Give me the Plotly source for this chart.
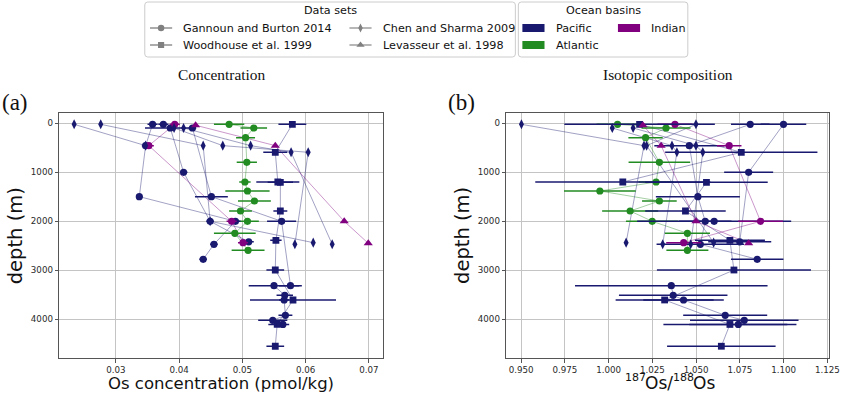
import plotly.graph_objects as go

W, H = 850, 393

# ---------------- data ----------------
basin_names = ["Pacific", "Atlantic", "Indian"]
basin_colors = ["#191970", "#228B22", "#800080"]
dataset_names = ["Gannoun and Burton 2014", "Woodhouse et al. 1999",
                 "Chen and Sharma 2009", "Levasseur et al. 1998"]
dataset_symbols = ["circle", "square", "diamond-tall", "triangle-up"]

# Gannoun and Burton 2014 - Pacific
gbp_station = ["P1"] * 6 + ["P2"] * 5 + ["P3"] * 4 + ["P4"] * 6
gbp_depth = [21, 456, 1497, 2000, 2470, 2776,
             21, 96, 1000, 2000, 2420,
             96, 1497, 2000, 3313,
             3313, 3510, 3606, 3919, 4021, 4105]
gbp_conc = [0.0358, 0.0347, 0.0337, 0.0489, 0.0455, 0.0438,
            0.0375, 0.0386, 0.0407, 0.0449, 0.0510,
            0.0421, 0.0451, 0.0562, 0.0576,
            0.0550, 0.0567, 0.0566, 0.0568, 0.0548, 0.0564]
gbp_conc_err = [0.0008, 0.0006, 0.0005, 0.0008, 0.0006, 0.0006,
                0.0008, 0.0040, 0.0006, 0.0006, 0.0008,
                0.0006, 0.0026, 0.0023, 0.0018,
                0.0040, 0.0013, 0.0008, 0.0011, 0.0023, 0.0010]
gbp_ratio = [1.0809, 1.0461, 1.0510, 1.0552, 1.0524, 1.0849,
             1.0999, None, 1.0800, None, 1.0749,
             None, None, 1.0603, None,
             1.0358, 1.0369, 1.0428, 1.0666, 1.0775, 1.0741]
gbp_ratio_err = [0.011, 0.020, 0.024, 0.015, 0.025, 0.015,
                 0.013, None, 0.014, None, 0.018,
                 None, None, 0.044, None,
                 0.055, 0.031, 0.023, 0.024, 0.031, 0.028]

# Gannoun and Burton 2014 - Atlantic
gba_station = ["A1"] * 11
gba_depth = [21, 96, 293, 796, 1198, 1382, 1586, 1790, 2000, 2245, 2592]
gba_conc = [0.0479, 0.0518, 0.0505, 0.0507, 0.0504, 0.0508, 0.0519, 0.0497, 0.0508, 0.0488, 0.0509]
gba_conc_err = [0.0024, 0.0021, 0.0015, 0.0016, 0.0009, 0.0035, 0.0026, 0.0018, 0.0018, 0.0033, 0.0026]
gba_ratio = [1.0051, 1.0328, 1.0211, 1.0290, 1.0271, 0.9950, 1.0290, 1.0123, 1.0249, 1.0450, 1.0450]
gba_ratio_err = [0.012, 0.014, 0.0098, 0.0176, 0.010, 0.0205, 0.0099, 0.016, 0.015, 0.0129, 0.012]

# Gannoun and Burton 2014 - Indian
gbi_station = ["I1"] * 4
gbi_depth = [21, 456, 2000, 2436]
gbi_conc = [0.0393, 0.0352, 0.0483, 0.0501]
gbi_conc_err = [0.0008, 0.0008, 0.0008, 0.0008]
gbi_ratio = [1.0379, 1.0689, 1.0868, 1.0429]
gbi_ratio_err = [0.010, 0.007, 0.0128, 0.010]

# Woodhouse et al. 1999 - Pacific
wh_station = ["W1"] * 3 + ["W2"] * 7
wh_depth = [21, 592, 1198, 1205, 1790, 2388, 2994, 3606, 4105, 4550]
wh_conc = [0.0579, 0.0552, 0.0556, 0.0560, 0.0560, 0.0553, 0.0552, 0.0580, 0.0555, 0.0552]
wh_conc_err = [0.0022, 0.0019, 0.0034, 0.0020, 0.0011, 0.0009, 0.0014, 0.0068, 0.0014, 0.0014]
wh_ratio = [1.0177, 1.0758, 1.0081, 1.0559, 1.0439, 1.0693, 1.0716, 1.0320, 1.0693, 1.0644]
wh_ratio_err = [0.043, 0.0435, 0.050, 0.035, 0.023, 0.020, 0.044, 0.028, 0.038, 0.031]

# Chen and Sharma 2009 - Pacific
cs_station = ["C1"] * 4 + ["C2"] * 3 + ["C3"] * 4 + ["C4"] * 4
cs_depth = [21, 456, 2000, 2436,
            21, 456, 2436,
            96, 456, 592, 2470,
            96, 456, 592, 2470]
cs_conc = [0.0276, 0.0438, 0.0449, 0.0612,
           0.0234, 0.0347, None,
           0.0392, 0.0469, 0.0604, 0.0583,
           0.0407, 0.0513, 0.0577, 0.0642]
cs_ratio = [1.0499, 1.0217, None, 1.0600,
            0.9502, 1.0202, 1.0100,
            1.0021, 1.0362, 1.0390, 1.0309,
            1.0140, 1.0499, 1.0538, 1.0469]

# Levasseur et al. 1998 - Indian
lv_station = ["L1"] * 4
lv_depth = [40, 456, 2000, 2449]
lv_conc = [0.0426, 0.0552, 0.0661, 0.0699]
lv_ratio = [1.0196, 1.0300, 1.0499, 1.0800]

conc_ticks = [0.03, 0.04, 0.05, 0.06, 0.07]
ratio_ticks = [0.950, 0.975, 1.000, 1.025, 1.050, 1.075, 1.100, 1.125]
depth_ticks = [0, 1000, 2000, 3000, 4000]

groups = [
    dict(ds=0, basin=1, st=gba_station, d=gba_depth, a=gba_conc, ae=gba_conc_err, b=gba_ratio, be=gba_ratio_err),
    dict(ds=0, basin=0, st=gbp_station, d=gbp_depth, a=gbp_conc, ae=gbp_conc_err, b=gbp_ratio, be=gbp_ratio_err),
    dict(ds=0, basin=2, st=gbi_station, d=gbi_depth, a=gbi_conc, ae=gbi_conc_err, b=gbi_ratio, be=gbi_ratio_err),
    dict(ds=1, basin=0, st=wh_station, d=wh_depth, a=wh_conc, ae=wh_conc_err, b=wh_ratio, be=wh_ratio_err),
    dict(ds=2, basin=0, st=cs_station, d=cs_depth, a=cs_conc, ae=None, b=cs_ratio, be=None),
    dict(ds=3, basin=2, st=lv_station, d=lv_depth, a=lv_conc, ae=None, b=lv_ratio, be=None),
]

marker_sizes = {"circle": 7.2, "square": 6.8, "diamond-tall": 7.2, "triangle-up": 8}

fig = go.Figure()

panels = [("x", "y", "a", "ae"), ("x2", "y2", "b", "be")]

# connecting lines (per station)
for g in groups:
    col = basin_colors[g["basin"]]
    for xa, ya, vk, ek in panels:
        for st in dict.fromkeys(g["st"]):
            idx = [i for i, s in enumerate(g["st"]) if s == st and g[vk][i] is not None]
            if len(idx) < 2:
                continue
            fig.add_trace(go.Scatter(
                x=[g[vk][i] for i in idx], y=[g["d"][i] for i in idx],
                xaxis=xa, yaxis=ya, mode="lines",
                line=dict(color=col, width=1), opacity=0.4,
                hoverinfo="skip", showlegend=False))

# markers with horizontal error bars
for g in groups:
    col = basin_colors[g["basin"]]
    sym = dataset_symbols[g["ds"]]
    for xa, ya, vk, ek in panels:
        idx = [i for i in range(len(g["d"])) if g[vk][i] is not None]
        tr = dict(x=[g[vk][i] for i in idx], y=[g["d"][i] for i in idx],
                  xaxis=xa, yaxis=ya, mode="markers",
                  marker=dict(symbol=sym, size=marker_sizes[sym], color=col),
                  showlegend=False)
        if g[ek] is not None:
            tr["error_x"] = dict(type="data", array=[g[ek][i] or 0 for i in idx],
                                 color=col, thickness=1.5, width=0)
        fig.add_trace(go.Scatter(**tr))

# ---------------- layout geometry (pixels) ----------------
def px(x):
    return x / W

def py(y):
    return 1 - y / H

ax_top, ax_bot = 113, 358
a_l, a_r = 60, 388
b_l, b_r = 512.3, 839.3

tick_font = dict(family="DejaVu Sans", size=8.7, color="#2a2a2a")
common_x = dict(showgrid=True, gridcolor="#c4c4c4", gridwidth=0.8, zeroline=False,
                showline=True, linecolor="#555555", linewidth=1.2, mirror=True,
                ticks="outside", ticklen=3.5, tickwidth=1, tickcolor="#555555",
                tickfont=tick_font)
fig.update_layout(
    width=W, height=H, margin=dict(l=0, r=0, t=0, b=0),
    paper_bgcolor="white", plot_bgcolor="white", showlegend=False,
    xaxis=dict(domain=[px(a_l), px(a_r)], range=[0.02105, 0.0723],
               tickvals=conc_ticks, tickformat=".2f", anchor="y", **common_x),
    yaxis=dict(domain=[py(ax_bot), py(ax_top)], range=[4790, -210],
               tickvals=depth_ticks, anchor="x", **common_x),
    xaxis2=dict(domain=[px(b_l), px(b_r)], range=[0.94153, 1.12615],
                tickvals=ratio_ticks, tickformat=".3f", anchor="y2", **common_x),
    yaxis2=dict(domain=[py(ax_bot), py(ax_top)], range=[4790, -210],
                tickvals=depth_ticks, anchor="x2", **common_x),
    xaxis3=dict(domain=[px(140), px(700)], range=[140, 700], visible=False, fixedrange=True),
    yaxis3=dict(domain=[py(60), 1], range=[60, 0], visible=False, fixedrange=True, anchor="x3"),
)

# ---------------- text ----------------
serif = "Liberation Serif"
sans = "DejaVu Sans"
ann = []
def text(x, y, t, size, family=sans, xanchor="center", yanchor="middle", angle=0, ref="paper"):
    if ref == "paper":
        ann.append(dict(x=px(x), y=py(y), xref="paper", yref="paper", text=t, showarrow=False,
                        font=dict(family=family, size=size, color="#111111"),
                        xanchor=xanchor, yanchor=yanchor, textangle=angle))
    else:
        ann.append(dict(x=x, y=y, xref="x3", yref="y3", text=t, showarrow=False,
                        font=dict(family=family, size=size, color="#111111"),
                        xanchor=xanchor, yanchor=yanchor, textangle=angle))

text((a_l + a_r) / 2, 74, "Concentration", 15.4, serif)
text((b_l + b_r) / 2, 74, "Isotopic composition", 15.4, serif)
text(0, 102, "(a)", 23, serif, xanchor="left")
text(451.7, 102, "(b)", 23, serif, xanchor="left")
text(16, 235.5, "depth (m)", 19.5, angle=-90)
text(468, 235.5, "depth (m)", 19.5, angle=-90)
text((a_l + a_r) / 2, 383, "Os concentration (pmol/kg)", 16.5)

# isotope-ratio label built from pieces (superscript mass numbers)
iso_parts = [("187", 11, 21.0, 377), ("Os/", 17, 27.6, 382.5), ("188", 11, 21.0, 377), ("Os", 17, 21.9, 382.5)]
x0 = (b_l + b_r) / 2 - sum(p[2] for p in iso_parts) / 2
for t, sz, wdt, yy in iso_parts:
    text(x0, yy, t, sz, xanchor="left")
    x0 += wdt

# ---------------- legends (drawn in a small overlay axis, pixel units) ----------------
shapes = []
def rbox(x0, y0, x1, y1, r=3):
    p = (f"M {x0+r},{y0} L {x1-r},{y0} Q {x1},{y0} {x1},{y0+r} L {x1},{y1-r} "
         f"Q {x1},{y1} {x1-r},{y1} L {x0+r},{y1} Q {x0},{y1} {x0},{y1-r} "
         f"L {x0},{y0+r} Q {x0},{y0} {x0+r},{y0} Z")
    shapes.append(dict(type="path", path=p, xref="x3", yref="y3",
                       line=dict(color="#cccccc", width=1), fillcolor="rgba(255,255,255,0.85)",
                       layer="below"))

rbox(146.5, 2, 521.5, 57)
rbox(524.5, 2, 696, 57)
text(334, 10, "Data sets", 11.2, ref="x3")
text(610.3, 10, "Ocean basins", 11.2, ref="x3")

leg_cols = [163, 364.8, 163, 364.8]
leg_rows = [28, 28, 45, 45]
leg_order = [0, 2, 1, 3]
for k, dsi in enumerate(leg_order):
    cx, cy = leg_cols[k], leg_rows[k]
    fig.add_trace(go.Scatter(x=[cx - 11.2, cx + 11.2], y=[cy, cy], xaxis="x3", yaxis="y3",
                             mode="lines", line=dict(color="#909090", width=1.3),
                             hoverinfo="skip", showlegend=False))
    sym = dataset_symbols[dsi]
    fig.add_trace(go.Scatter(x=[cx], y=[cy], xaxis="x3", yaxis="y3", mode="markers",
                             marker=dict(symbol=sym, size=marker_sizes[sym] * 0.9, color="#808080"),
                             hoverinfo="skip", showlegend=False))
    text(cx + 20.3, cy, dataset_names[dsi], 11.2, xanchor="left", ref="x3")

basin_cols = [539.8, 636.5, 539.8]
basin_rows = [28, 28, 45]
basin_order = [0, 2, 1]
for k, bi in enumerate(basin_order):
    cx, cy = basin_cols[k], basin_rows[k]
    shapes.append(dict(type="rect", xref="x3", yref="y3", x0=cx - 11.2, x1=cx + 11.2,
                       y0=cy - 3.9, y1=cy + 3.9, fillcolor=basin_colors[bi],
                       line=dict(width=0)))
    text(cx + 20.3, cy, basin_names[bi], 11.2, xanchor="left", ref="x3")

fig.update_layout(annotations=ann, shapes=shapes)
fig.write_html("out.html", config={"displayModeBar": False},
               post_script="document.body.style.margin='0px';document.body.style.overflow='hidden';")
